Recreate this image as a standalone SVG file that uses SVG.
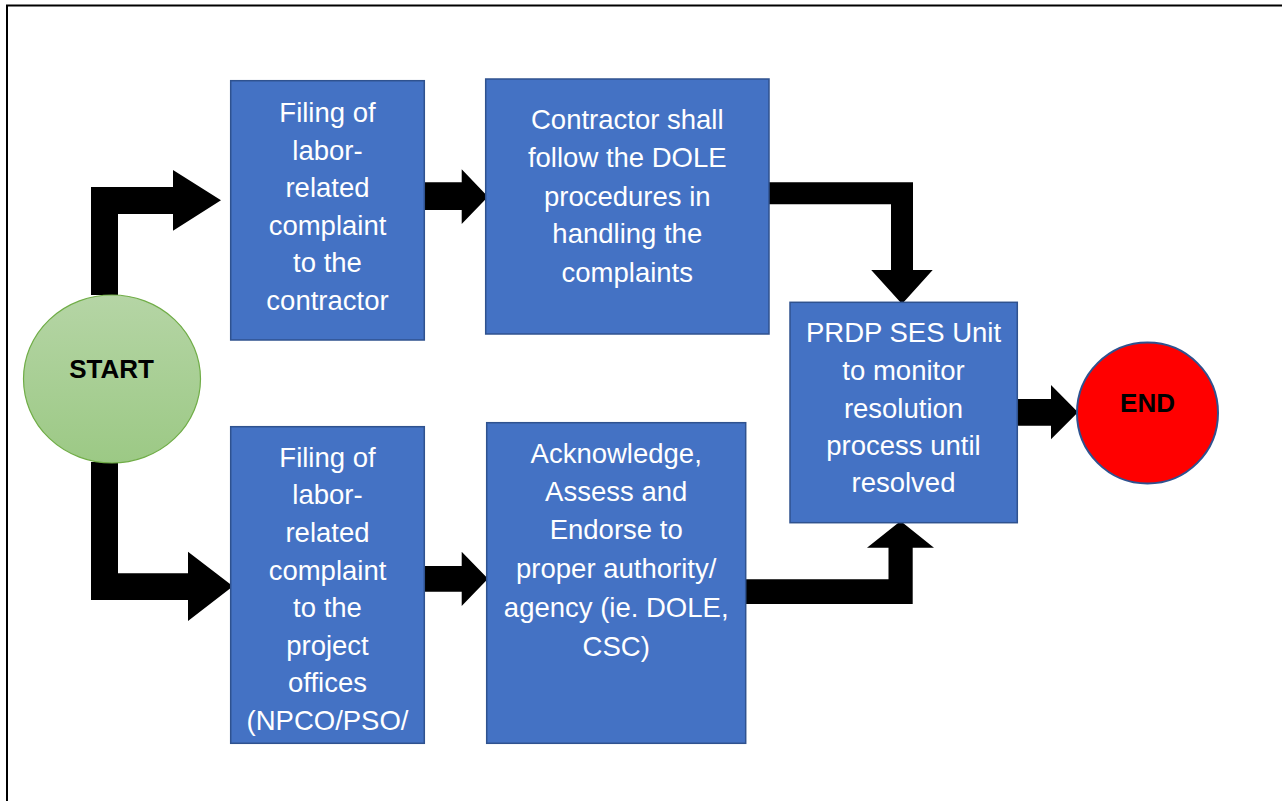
<svg xmlns="http://www.w3.org/2000/svg" width="1282" height="801" viewBox="0 0 1282 801">
  <defs>
    <linearGradient id="startFill" x1="0" y1="0" x2="0" y2="1">
      <stop offset="0" stop-color="#B5D5A5"/>
      <stop offset="1" stop-color="#9CC985"/>
    </linearGradient>
  </defs>
  <style>
    .box { fill: #4472C4; stroke: #2F528F; stroke-width: 1.5; }
    .label { font-family: "Liberation Sans", Arial, sans-serif; font-size: 27.5px; fill: #FFFFFF; text-anchor: middle; }
    .term { font-family: "Liberation Sans", Arial, sans-serif; font-size: 26px; font-weight: bold; fill: #000000; text-anchor: middle; }
    .arrow { fill: #000000; stroke: none; }
    .frame { stroke: #000000; stroke-width: 2; fill: none; }
  </style>

  <rect width="1282" height="801" fill="#FFFFFF"/>

  <!-- page frame: top and left edges -->
  <path class="frame" d="M7,801 V5.5 H1282"/>

  <!-- block-arrow connectors -->
  <g id="connectors">
    <polygon class="arrow" points="91,295 91,187 173,187 173,170 221,200.3 173,230.7 173,214 118,214 118,295"/>
    <polygon class="arrow" points="91,462 91,600 188,600 188,621 233,586.3 188,551.7 188,573.3 118,573.3 118,462"/>
    <polygon class="arrow" points="424,182.3 461.7,182.3 461.7,169.3 488,196.7 461.7,224 461.7,210 424,210"/>
    <polygon class="arrow" points="424,566 461.7,566 461.7,551.7 488,578.8 461.7,606 461.7,591.7 424,591.7"/>
    <polygon class="arrow" points="769,182.3 913,182.3 913,270 932.7,270 902,304 871.2,270 891,270 891,204.3 769,204.3"/>
    <polygon class="arrow" points="745,604 912.7,604 912.7,547.7 934,547.7 900.6,521 867,547.7 888.5,547.7 888.5,579.3 745,579.3"/>
    <polygon class="arrow" points="1016,399 1051,399 1051,385 1078,412.3 1051,439.3 1051,425.7 1016,425.7"/>
  </g>

  <g id="start">
    <ellipse cx="112" cy="379" rx="88.5" ry="84" fill="url(#startFill)" stroke="#70AD47" stroke-width="1.2"/>
    <text class="term" x="111.5" y="378.3">START</text>
  </g>

  <g id="file-contractor">
    <rect class="box" x="230.7" y="80.7" width="193.6" height="259.3"/>
    <text class="label" x="327.5" y="122">Filing of</text>
    <text class="label" x="327.5" y="159.5">labor-</text>
    <text class="label" x="327.5" y="197">related</text>
    <text class="label" x="327.5" y="234.5">complaint</text>
    <text class="label" x="327.5" y="272">to the</text>
    <text class="label" x="327.5" y="310">contractor</text>
  </g>

  <g id="dole-procedures">
    <rect class="box" x="485.7" y="79" width="283.3" height="255"/>
    <text class="label" x="627.3" y="129">Contractor shall</text>
    <text class="label" x="627.3" y="167">follow the DOLE</text>
    <text class="label" x="627.3" y="205.5">procedures in</text>
    <text class="label" x="627.3" y="243.3">handling the</text>
    <text class="label" x="627.3" y="281.5">complaints</text>
  </g>

  <g id="file-project-offices">
    <rect class="box" x="230.7" y="426.7" width="193.6" height="316.6"/>
    <text class="label" x="327.5" y="466.7">Filing of</text>
    <text class="label" x="327.5" y="504">labor-</text>
    <text class="label" x="327.5" y="541.7">related</text>
    <text class="label" x="327.5" y="579.5">complaint</text>
    <text class="label" x="327.5" y="617">to the</text>
    <text class="label" x="327.5" y="654.7">project</text>
    <text class="label" x="327.5" y="692">offices</text>
    <text class="label" x="327.5" y="730">(NPCO/PSO/</text>
  </g>

  <g id="endorse">
    <rect class="box" x="486.7" y="422.7" width="259" height="320.6"/>
    <text class="label" x="616.2" y="462.7">Acknowledge,</text>
    <text class="label" x="616.2" y="500.7">Assess and</text>
    <text class="label" x="616.2" y="539.3">Endorse to</text>
    <text class="label" x="616.2" y="578">proper authority/</text>
    <text class="label" x="616.2" y="616.7">agency (ie. DOLE,</text>
    <text class="label" x="616.2" y="655.5">CSC)</text>
  </g>

  <g id="monitor">
    <rect class="box" x="790" y="302.3" width="227.3" height="220.4"/>
    <text class="label" x="903.5" y="341.7">PRDP SES Unit</text>
    <text class="label" x="903.5" y="380">to monitor</text>
    <text class="label" x="903.5" y="417.5">resolution</text>
    <text class="label" x="903.5" y="455">process until</text>
    <text class="label" x="903.5" y="492">resolved</text>
  </g>

  <g id="end">
    <circle cx="1147.5" cy="413" r="70.5" fill="#FF0000" stroke="#2F528F" stroke-width="2"/>
    <text class="term" x="1147.5" y="411.7">END</text>
  </g>
</svg>
